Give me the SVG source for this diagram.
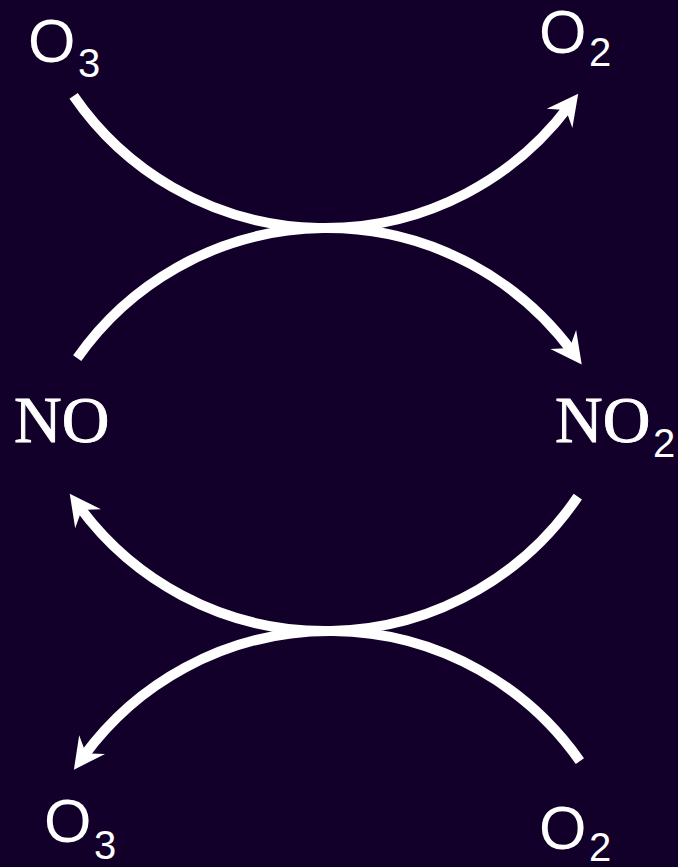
<svg xmlns="http://www.w3.org/2000/svg" width="678" height="867" viewBox="0 0 678 867">
  <style>
    .sans { font-family: "Liberation Sans", Arial, sans-serif; fill: #ffffff; }
    .serif { font-family: "Liberation Serif", "Times New Roman", serif; fill: #ffffff; stroke: #ffffff; stroke-width: 0.9; }
    .big { font-size: 61px; }
    .sub { font-size: 40px; }
    .arc { fill: none; stroke: #ffffff; stroke-width: 10; marker-end: url(#head); }
  </style>
  <defs>
    <marker id="head" markerUnits="userSpaceOnUse" viewBox="-20 -20 40 40" refX="0" refY="0" markerWidth="40" markerHeight="40" orient="auto" overflow="visible">
      <path d="M16,0 L-15,-16 L-7,-4 L-7,4 L-15,16 Z" fill="#ffffff"/>
    </marker>
  </defs>
  <rect width="678" height="867" fill="#12002b"/>

  <g id="connectors">
    <path id="arc-o3-o2-top" class="arc" d="M 73.6 95.8 A 305 305 0 0 0 568.6 106.5"/>
    <path id="arc-no-no2" class="arc" d="M 77.2 358.1 A 305 305 0 0 1 572.2 351.6"/>
    <path id="arc-no2-no" class="arc" d="M 577.8 496.6 A 305 305 0 0 1 79.2 506.6"/>
    <path id="arc-o2-o3-bottom" class="arc" d="M 579.9 761.1 A 305 305 0 0 0 83.3 756.7"/>
  </g>

  <g id="o3-top">
    <text class="sans big" x="28" y="62">O</text>
    <text class="sans sub" x="78" y="77">3</text>
  </g>
  <g id="o2-top">
    <text class="sans big" x="539" y="53">O</text>
    <text class="sans sub" x="589" y="66">2</text>
  </g>
  <g id="no">
    <text class="serif" font-size="66" x="14" y="442">NO</text>
  </g>
  <g id="no2">
    <text class="serif" font-size="66" x="555" y="442">NO</text>
    <text class="sans sub" x="653" y="457">2</text>
  </g>
  <g id="o3-bottom">
    <text class="sans big" x="44" y="842">O</text>
    <text class="sans sub" x="94" y="859">3</text>
  </g>
  <g id="o2-bottom">
    <text class="sans big" x="539" y="849">O</text>
    <text class="sans sub" x="589" y="861">2</text>
  </g>
</svg>
